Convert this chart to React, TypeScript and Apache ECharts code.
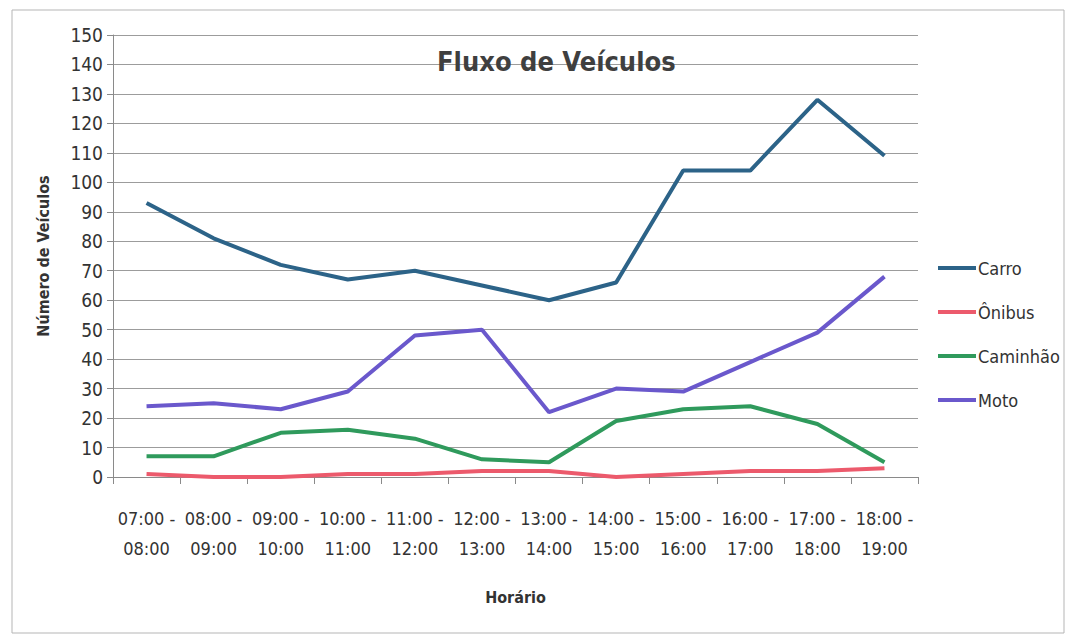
import { useEffect, useRef } from "react";
import * as echarts from "echarts";

const categories = [
  "07:00 -\n08:00",
  "08:00 -\n09:00",
  "09:00 -\n10:00",
  "10:00 -\n11:00",
  "11:00 -\n12:00",
  "12:00 -\n13:00",
  "13:00 -\n14:00",
  "14:00 -\n15:00",
  "15:00 -\n16:00",
  "16:00 -\n17:00",
  "17:00 -\n18:00",
  "18:00 -\n19:00",
];

const carro = [93, 81, 72, 67, 70, 65, 60, 66, 104, 104, 128, 109];
const onibus = [1, 0, 0, 1, 1, 2, 2, 0, 1, 2, 2, 3];
const caminhao = [7, 7, 15, 16, 13, 6, 5, 19, 23, 24, 18, 5];
const moto = [24, 25, 23, 29, 48, 50, 22, 30, 29, 39, 49, 68];

const seriesNames = ["Carro", "Ônibus", "Caminhão", "Moto"];
const seriesColors = ["#2c6388", "#ec5a6c", "#2f9a5c", "#6a58cc"];
const seriesData = [carro, onibus, caminhao, moto];

const FONT = "'DejaVu Sans Condensed', 'Open Sans', sans-serif";

export default function App() {
  const ref = useRef<HTMLDivElement>(null);
  useEffect(() => {
    const chart = echarts.init(ref.current!, null, { renderer: "svg" });
    chart.setOption({
      animation: false,
      backgroundColor: "#ffffff",
      textStyle: { fontFamily: FONT },
      title: {
        text: "Fluxo de Veículos",
        left: 432,
        top: 43,
        textStyle: { fontFamily: FONT, fontSize: 27, fontWeight: "bold", color: "#3f3f3f" },
      },
      graphic: [
        {
          type: "rect",
          shape: { x: 12, y: 10, width: 1052, height: 623 },
          style: { fill: "none", stroke: "#b5b5b5", lineWidth: 1 },
          silent: true,
        },
      ],
      legend: {
        orient: "vertical",
        left: 933,
        top: 254,
        icon: "rect",
        itemWidth: 38,
        itemHeight: 4,
        itemGap: 26,
        data: seriesNames,
        textStyle: { fontFamily: FONT, fontSize: 18, color: "#333", padding: [0, 0, 0, -3] },
      },
      grid: { left: 113, right: 154, top: 35, bottom: 162, containLabel: false },
      xAxis: {
        type: "category",
        data: categories,
        boundaryGap: true,
        name: "Horário",
        nameLocation: "middle",
        nameGap: 112,
        nameTextStyle: { fontFamily: FONT, fontSize: 16, fontWeight: "bold", color: "#333" },
        axisLine: { lineStyle: { color: "#8a8a8a", width: 1 } },
        axisTick: { show: true, length: 7, interval: 0, lineStyle: { color: "#8a8a8a" } },
        axisLabel: {
          interval: 0,
          margin: 26,
          fontSize: 18,
          lineHeight: 30,
          color: "#333",
          fontFamily: FONT,
        },
      },
      yAxis: {
        type: "value",
        min: 0,
        max: 150,
        interval: 10,
        name: "Número de Veículos",
        nameLocation: "middle",
        nameRotate: 90,
        nameGap: 62,
        nameTextStyle: { fontFamily: FONT, fontSize: 16, fontWeight: "bold", color: "#333" },
        axisLine: { show: true, lineStyle: { color: "#8a8a8a", width: 1 } },
        axisTick: { show: true, length: 6, lineStyle: { color: "#8a8a8a" } },
        axisLabel: { margin: 10, fontSize: 19, color: "#333", fontFamily: FONT },
        splitLine: { lineStyle: { color: "#9c9c9c", width: 1 } },
      },
      series: seriesNames.map((name, i) => ({
        name,
        type: "line",
        data: seriesData[i],
        symbol: "none",
        color: seriesColors[i],
        lineStyle: { width: 4, color: seriesColors[i] },
      })),
    });
    return () => chart.dispose();
  }, []);
  return (
    <div
      ref={ref}
      style={{ position: "absolute", left: 0, top: 0, width: 1072, height: 639, background: "#fff" }}
    />
  );
}
